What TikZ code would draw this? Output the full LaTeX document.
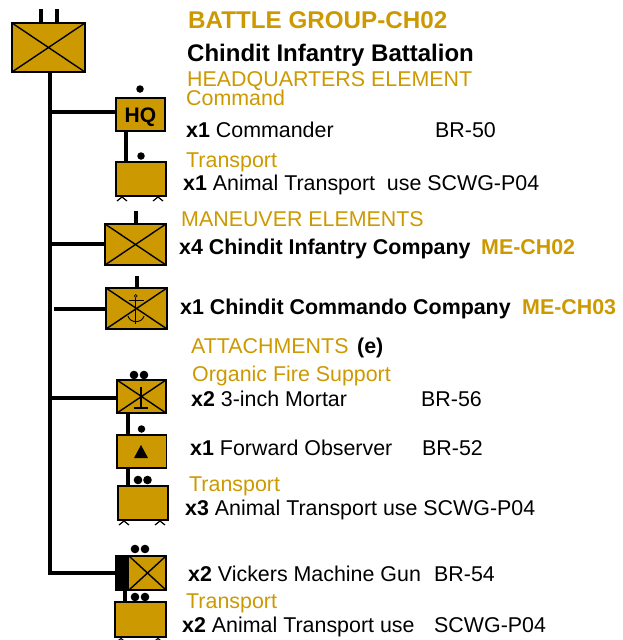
\documentclass[tikz,border=0pt]{standalone}
\usepackage{fontspec}
\setmainfont{Liberation Sans}
\definecolor{gold}{HTML}{CC9900}
\tikzset{
 x=1pt,y=-1pt,
 unitbox/.style={draw=black,line width=1.8pt,fill=gold},
 cross/.style={line width=1.4pt},
 bar/.style={line width=4pt,black},
 dotmark/.style={circle,fill=black,inner sep=0pt,minimum size=7.5pt},
 dotpair/.style={circle,fill=black,inner sep=0pt,minimum size=8.6pt},
 foot/.style={line width=1.2pt},
 txt/.style={anchor=base west,inner sep=0pt,font=\fontsize{21.4}{22}\selectfont},
 gtxt/.style={txt,text=gold},
}
\newcommand{\foots}[3]{\draw[foot] (#1-5,#3+4) -- (#1,#3) -- (#1+5,#3+4); \draw[foot] (#2-5,#3+4) -- (#2,#3) -- (#2+5,#3+4);}
\begin{document}
\begin{tikzpicture}
\useasboundingbox (0,0) rectangle (622,640);
% connectors
\coordinate (t0) at (50,72); \coordinate (t1) at (50,573);
\coordinate (s1) at (40.5,9); \coordinate (s2) at (56.5,9);
\coordinate (s3) at (135.5,211); \coordinate (s4) at (136.5,276);
\coordinate (s5) at (54,309);
\draw[bar] (s1) -- (40.5,23);
\draw[bar] (s2) -- (56.5,23);
\draw[bar] (t0) -- (t1);
\draw[bar] (50,112) -- (116,112);
\draw[bar] (126,131) -- (126,162);
\draw[bar] (s3) -- (135.5,224);
\draw[bar] (50,244) -- (105,244);
\draw[bar] (s4) -- (136.5,288);
\draw[bar] (s5) -- (106,309);
\draw[bar] (50,398) -- (117,398);
\draw[bar] (127.5,413) -- (127.5,435);
\draw[bar] (127.5,468) -- (127.5,486);
\draw[bar] (48,573) -- (116,573);
\draw[bar] (125,590) -- (125,602);
% top
\draw[unitbox] (12,23) rectangle (85,72);
\draw[cross] (12,23) -- (85,72) (85,23) -- (12,72);
% HQ
\draw[unitbox] (116,98) rectangle (165,131);
\node[anchor=base west,inner sep=0pt,font=\bfseries\fontsize{21}{22}\selectfont] (hq) at (124.5,122.5) {HQ};
\node[dotmark] (d1) at (140,89) {};
% transport 1
\draw[unitbox] (116,162) rectangle (166,196);
\node[dotmark] (d2) at (141,156) {};
\foots{122}{158}{197}
% company
\draw[unitbox] (105,224) rectangle (166,265);
\draw[cross] (105,224) -- (166,265) (166,224) -- (105,265);
% commando
\draw[unitbox] (106,288) rectangle (167,329);
\draw[cross] (106,288) -- (167,329) (167,288) -- (106,329);
\draw[line width=.9pt] (135.7,298) -- (135.7,323.5) (128.5,300) -- (143.5,300);
\draw[line width=.9pt] (128,316) .. controls (130,323.5) and (142,323.5) .. (144,316);
\node[circle,draw=black,fill=gold!50!gray,line width=.6pt,inner sep=0pt,minimum size=3pt] (ring) at (135.7,296) {};
% mortar
\draw[unitbox] (117,380) rectangle (166,413);
\draw[cross] (117,380) -- (166,413) (166,380) -- (117,413);
\draw[line width=2pt] (141,387) -- (141,408);
\draw[line width=2.6pt] (134,408) -- (148,408);
\node[dotpair] (d3) at (134,375) {};
\node[dotpair] (d4) at (144,375) {};
% FO
\draw[unitbox] (117,435) rectangle (166.5,468);
\fill[black] (134,458) -- (141,445) -- (148,458) -- cycle;
\node[dotmark] (d5) at (141.5,429) {};
% transport 2
\draw[unitbox] (118,486) rectangle (168,520);
\node[dotpair] (d6) at (138,480) {};
\node[dotpair] (d7) at (147.5,480) {};
\foots{124}{160}{521}
% vickers
\draw[unitbox] (116,556) rectangle (166,590);
\fill[black] (116,556) rectangle (129,590);
\draw[cross] (129,556) -- (166,590) (166,556) -- (129,590);
\node[dotpair] (d8) at (135,549) {};
\node[dotpair] (d9) at (145,549) {};
% transport 3
\draw[unitbox] (115,602) rectangle (166,637);
\node[dotpair] (d10) at (135,597) {};
\node[dotpair] (d11) at (145,597) {};
\foots{121}{158}{638.5}
% texts
\node[gtxt,font=\bfseries\fontsize{24.2}{26}\selectfont] (a) at (188,28.5) {BATTLE GROUP-CH02};
\node[txt,font=\bfseries\fontsize{24}{26}\selectfont] (b) at (187,61) {Chindit Infantry Battalion};
\node[gtxt] (c) at (187,86) {HEADQUARTERS ELEMENT};
\node[gtxt] (d) at (186,105) {Command};
\node[txt] (e) at (186,137) {\textbf{x1} Commander};
\node[txt] (e2) at (435,137) {BR-50};
\node[gtxt] (f) at (186,167) {Transport};
\node[txt] (g) at (183,190) {\textbf{x1} Animal Transport\ \ use SCWG-P04};
\node[gtxt] (h) at (181,226) {MANEUVER ELEMENTS};
\node[txt] (i) at (179,254) {\textbf{x4 Chindit Infantry Company}};
\node[gtxt,font=\bfseries\fontsize{21.4}{22}\selectfont] (i2) at (481,254) {ME-CH02};
\node[txt] (j) at (180,314) {\textbf{x1 Chindit Commando Company}};
\node[gtxt,font=\bfseries\fontsize{21.4}{22}\selectfont] (j2) at (522,314) {ME-CH03};
\node[gtxt] (k) at (191,353) {ATTACHMENTS};
\node[txt,font=\bfseries\fontsize{21.4}{22}\selectfont] (k2) at (357,353) {(e)};
\node[gtxt] (l) at (192,381) {Organic Fire Support};
\node[txt] (m) at (191,406) {\textbf{x2} 3-inch Mortar};
\node[txt] (m2) at (421,406) {BR-56};
\node[txt] (n) at (190,455) {\textbf{x1} Forward Observer};
\node[txt] (n2) at (422,455) {BR-52};
\node[gtxt] (o) at (189,491) {Transport};
\node[txt] (p) at (185,515) {\textbf{x3} Animal Transport use SCWG-P04};
\node[txt] (q) at (188,581) {\textbf{x2} Vickers Machine Gun};
\node[txt] (q2) at (434,581) {BR-54};
\node[gtxt] (r) at (186,608) {Transport};
\node[txt] (s) at (182,632) {\textbf{x2} Animal Transport use};
\node[txt] (s2) at (434,632) {SCWG-P04};
\end{tikzpicture}
\end{document}
